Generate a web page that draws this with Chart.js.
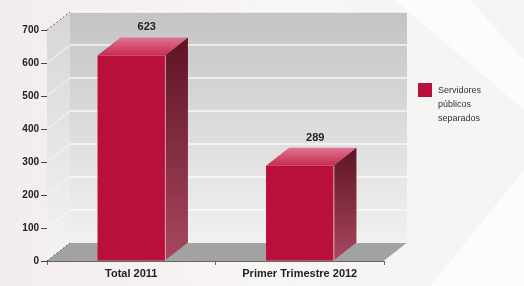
<!DOCTYPE html>
<html>
<head>
<meta charset="utf-8">
<script src="https://cdn.jsdelivr.net/npm/chart.js@4"></script>
<style>
  html, body { margin: 0; padding: 0; background: #f8f4f4; }
  #wrap { width: 524px; height: 286px; position: relative; }
</style>
</head>
<body>
<div id="wrap"><canvas id="grafico"></canvas></div>
<script>
const categorias = ['Total 2011', 'Primer Trimestre 2012'];
const valores = [623, 289];
const serieNombre = ['Servidores', 'públicos', 'separados'];
const yTicks = [0, 100, 200, 300, 400, 500, 600, 700];

const DX = 23, DY = 18;
const FONT = '"Liberation Sans", Arial, sans-serif';

const efecto3d = {
    id: 'efecto3d',
    beforeDraw(chart) {
        const ctx = chart.ctx;
        ctx.save();
        const bg = ctx.createLinearGradient(0, 0, chart.width, 0);
        bg.addColorStop(0, '#f3ecec');
        bg.addColorStop(0.5, '#f8f5f5');
        bg.addColorStop(1, '#f6f3f3');
        ctx.fillStyle = bg;
        ctx.fillRect(0, 0, chart.width, chart.height);
        // fondo con formas tenues
        ctx.fillStyle = 'rgba(255,255,255,0.7)';
        ctx.beginPath();
        ctx.moveTo(395, 0); ctx.lineTo(470, 0); ctx.lineTo(524, 60); ctx.lineTo(524, 110); ctx.closePath();
        ctx.fill();
        ctx.beginPath();
        ctx.moveTo(430, 286); ctx.lineTo(524, 170); ctx.lineTo(524, 286); ctx.closePath();
        ctx.fill();
        ctx.restore();
    },
    beforeDatasetsDraw(chart) {
        const ctx = chart.ctx;
        const a = chart.chartArea;
        const y = chart.scales.y;
        ctx.save();
        // pared lateral
        let g = ctx.createLinearGradient(0, a.top - DY, 0, a.bottom);
        g.addColorStop(0, '#d6d6d6');
        g.addColorStop(1, '#f3f3f3');
        ctx.fillStyle = g;
        ctx.beginPath();
        ctx.moveTo(a.left, a.bottom);
        ctx.lineTo(a.left, a.top);
        ctx.lineTo(a.left + DX, a.top - DY);
        ctx.lineTo(a.left + DX, a.bottom - DY);
        ctx.closePath();
        ctx.fill();
        // pared del fondo
        g = ctx.createLinearGradient(0, a.top - DY, 0, a.bottom - DY);
        g.addColorStop(0, '#c3c3c3');
        g.addColorStop(0.5, '#dcdcdc');
        g.addColorStop(1, '#f1f1f1');
        ctx.fillStyle = g;
        ctx.fillRect(a.left + DX, a.top - DY, a.right - a.left, a.bottom - a.top);
        // lineas de la rejilla
        ctx.lineWidth = 1.5;
        yTicks.forEach(v => {
            if (v === 0) return;
            const py = y.getPixelForValue(v);
            ctx.strokeStyle = 'rgba(255,255,255,0.8)';
            ctx.beginPath();
            ctx.moveTo(a.left + DX, py - DY);
            ctx.lineTo(a.right + DX, py - DY);
            ctx.stroke();
            ctx.strokeStyle = 'rgba(255,255,255,0.45)';
            ctx.beginPath();
            ctx.moveTo(a.left, py);
            ctx.lineTo(a.left + DX, py - DY);
            ctx.stroke();
        });
        // borde superior punteado
        ctx.setLineDash([2, 2]);
        ctx.strokeStyle = '#555';
        ctx.lineWidth = 1;
        ctx.beginPath();
        ctx.moveTo(a.left, a.top);
        ctx.lineTo(a.left + DX, a.top - DY);
        ctx.stroke();
        ctx.setLineDash([]);
        // piso
        ctx.fillStyle = '#a2a2a2';
        ctx.beginPath();
        ctx.moveTo(a.left, a.bottom);
        ctx.lineTo(a.right, a.bottom);
        ctx.lineTo(a.right + DX, a.bottom - DY);
        ctx.lineTo(a.left + DX, a.bottom - DY);
        ctx.closePath();
        ctx.fill();
        ctx.strokeStyle = '#e8e8e8';
        ctx.beginPath();
        ctx.moveTo(a.right, a.bottom);
        ctx.lineTo(a.right + DX, a.bottom - DY);
        ctx.stroke();
        ctx.setLineDash([2, 2]);
        ctx.strokeStyle = '#555';
        ctx.beginPath();
        ctx.moveTo(a.left, a.bottom);
        ctx.lineTo(a.left + DX, a.bottom - DY);
        ctx.stroke();
        ctx.restore();
    },
    afterDatasetsDraw(chart) {
        const ctx = chart.ctx;
        const meta = chart.getDatasetMeta(0);
        ctx.save();
        meta.data.forEach((bar, i) => {
            const w = bar.width;
            const l = bar.x - w / 2, r = bar.x + w / 2;
            const t = bar.y, b = bar.base;
            // cara superior
            let g = ctx.createLinearGradient(0, t - DY, 0, t);
            g.addColorStop(0, '#e07592');
            g.addColorStop(1, '#c72a52');
            ctx.fillStyle = g;
            ctx.beginPath();
            ctx.moveTo(l, t);
            ctx.lineTo(r, t);
            ctx.lineTo(r + DX, t - DY);
            ctx.lineTo(l + DX, t - DY);
            ctx.closePath();
            ctx.fill();
            // cara lateral
            g = ctx.createLinearGradient(0, t - DY, 0, b);
            g.addColorStop(0, '#5e1424');
            g.addColorStop(1, '#a8475f');
            ctx.fillStyle = g;
            ctx.beginPath();
            ctx.moveTo(r, t);
            ctx.lineTo(r + DX, t - DY);
            ctx.lineTo(r + DX, b - DY);
            ctx.lineTo(r, b);
            ctx.closePath();
            ctx.fill();
            // borde claro
            ctx.strokeStyle = 'rgba(255,190,205,0.7)';
            ctx.lineWidth = 1;
            ctx.beginPath();
            ctx.moveTo(r + 0.5, t);
            ctx.lineTo(r + 0.5, b);
            ctx.stroke();
            // etiqueta de valor
            ctx.fillStyle = '#222';
            ctx.font = 'bold 11px ' + FONT;
            ctx.textAlign = 'center';
            ctx.textBaseline = 'middle';
            ctx.fillText(String(valores[i]), bar.x + DX / 2 + 4, t - DY - 10);
        });
        // leyenda
        ctx.fillStyle = '#b8103a';
        ctx.fillRect(418, 83, 14, 14);
        ctx.fillStyle = '#333';
        ctx.font = '9px ' + FONT;
        ctx.textAlign = 'left';
        ctx.textBaseline = 'middle';
        serieNombre.forEach((s, k) => ctx.fillText(s, 438, 91 + k * 14));
        ctx.restore();
    }
};

new Chart(document.getElementById('grafico'), {
    type: 'bar',
    data: {
        labels: categorias,
        datasets: [{
            label: serieNombre.join(' '),
            data: valores,
            backgroundColor: '#b8103a',
            borderWidth: 0,
            barPercentage: 0.8,
            categoryPercentage: 0.5
        }]
    },
    options: {
        responsive: true,
        maintainAspectRatio: false,
        animation: false,
        layout: { padding: { top: 30, right: 140, left: 0, bottom: 0 } },
        plugins: { legend: { display: false }, tooltip: { enabled: false } },
        scales: {
            x: {
                afterFit(s) { s.height = 25; },
                grid: { drawOnChartArea: false, tickLength: 4, color: '#666' },
                border: { color: '#666' },
                ticks: { color: '#222', font: { family: FONT, size: 11, weight: 'bold' }, padding: 2 }
            },
            y: {
                min: 0,
                max: 700,
                afterFit(s) { s.width = 47; },
                afterBuildTicks(s) { s.ticks = yTicks.map(v => ({ value: v })); },
                grid: { drawOnChartArea: false, tickLength: 6, color: '#444' },
                border: { color: '#444' },
                ticks: { color: '#222', font: { family: FONT, size: 10, weight: 'bold' }, padding: 2 }
            }
        }
    },
    plugins: [efecto3d]
});
</script>
</body>
</html>
